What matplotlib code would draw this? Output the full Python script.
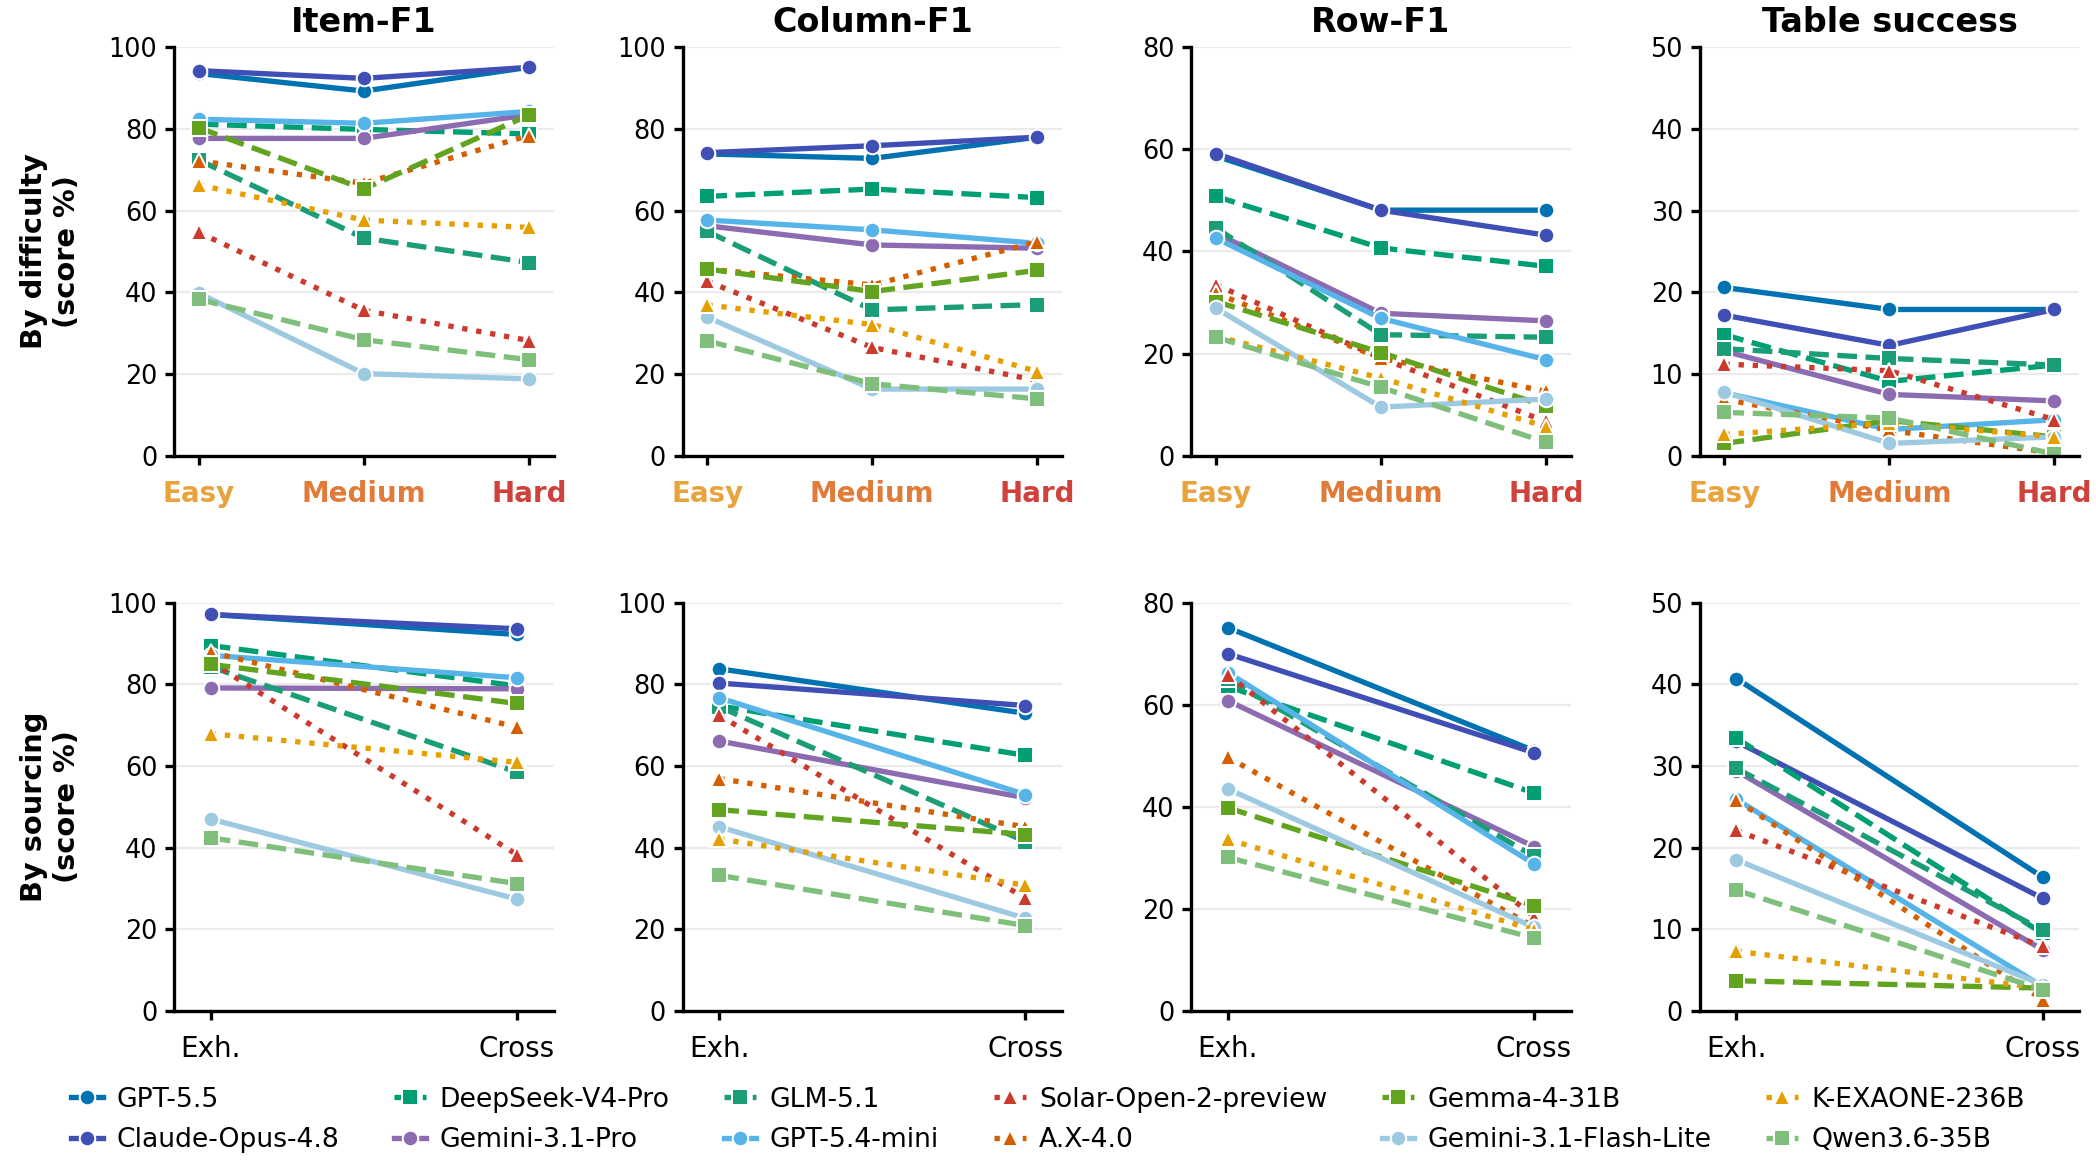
##############
#Dependencies
##############
import matplotlib
matplotlib.use("Agg")
import matplotlib.pyplot as plt

#################
#Data
#################
MODELS = ["GPT-5.5", "Claude-Opus-4.8", "DeepSeek-V4-Pro", "Gemini-3.1-Pro",
          "GLM-5.1", "GPT-5.4-mini", "Solar-Open-2-preview", "A.X-4.0",
          "Gemma-4-31B", "Gemini-3.1-Flash-Lite", "K-EXAONE-236B", "Qwen3.6-35B"]

DIFFICULTY = ["Easy", "Medium", "Hard"]
SOURCING = ["Exh.", "Cross"]
METRICS = ["Item-F1", "Column-F1", "Row-F1", "Table success"]

# rows follow MODELS, columns follow DIFFICULTY
item_diff = [[93.6, 89.3, 95.1], [94.3, 92.4, 95.1], [81.2, 79.9, 78.8], [77.7, 77.7, 83.5],
             [72.4, 53.3, 47.3], [82.4, 81.4, 84.3], [54.7, 35.6, 28.2], [72.2, 66.7, 78.4],
             [80.3, 65.3, 83.4], [39.8, 20.1, 18.8], [66.3, 57.7, 55.9], [38.3, 28.4, 23.5]]
col_diff = [[73.9, 72.8, 78.0], [74.2, 75.9, 78.0], [63.5, 65.3, 63.2], [56.3, 51.6, 50.8],
            [54.9, 35.7, 37.0], [57.7, 55.3, 52.0], [42.7, 26.5, 18.4], [45.7, 41.8, 52.4],
            [45.7, 40.2, 45.4], [33.9, 16.3, 16.3], [36.9, 32.1, 20.6], [28.1, 17.6, 13.9]]
row_diff = [[58.7, 48.1, 48.1], [59.2, 48.1, 43.2], [50.8, 40.7, 37.1], [43.6, 27.9, 26.4],
            [44.6, 23.7, 23.2], [42.6, 26.9, 18.8], [33.5, 19.1, 6.7], [31.8, 19.1, 12.6],
            [30.2, 20.2, 9.7], [28.9, 9.5, 11.1], [23.4, 15.2, 5.7], [23.2, 13.4, 2.6]]
table_diff = [[20.6, 17.9, 17.9], [17.2, 13.5, 17.9], [14.8, 9.1, 11.1], [12.8, 7.5, 6.7],
              [13.1, 11.9, 11.1], [7.7, 3.2, 4.4], [11.2, 10.4, 4.4], [6.9, 3.1, 0.3],
              [1.5, 4.3, 2.3], [7.8, 1.5, 2.3], [2.6, 4.0, 2.3], [5.3, 4.6, 0.2]]

# rows follow MODELS, columns follow SOURCING
item_src = [[97.1, 92.2], [97.1, 93.6], [89.5, 79.6], [79.1, 78.9], [84.3, 58.5], [87.1, 81.6],
            [85.5, 38.3], [87.9, 69.5], [84.9, 75.3], [47.0, 27.4], [67.9, 60.9], [42.4, 31.2]]
col_src = [[83.8, 72.9], [80.3, 74.8], [74.7, 62.6], [66.1, 52.2], [74.5, 41.5], [76.7, 53.0],
           [72.4, 27.6], [56.9, 45.1], [49.3, 43.2], [45.1, 22.7], [42.1, 30.8], [33.2, 20.9]]
row_src = [[75.1, 51.0], [70.0, 50.6], [63.6, 42.7], [60.8, 32.2], [65.0, 30.3], [66.3, 28.8],
           [65.9, 18.5], [49.7, 16.5], [39.8, 20.6], [43.5, 16.4], [33.6, 15.9], [30.1, 14.3]]
table_src = [[40.7, 16.4], [33.0, 13.8], [33.4, 9.5], [29.4, 7.5], [29.7, 9.9], [25.9, 3.0],
             [22.1, 7.9], [25.8, 1.4], [3.7, 2.8], [18.5, 3.2], [7.3, 2.8], [14.8, 2.6]]

#################
#Configurations
#################
COLORS = ["#0072B2", "#3F4FB5", "#009E73", "#8C6BB1", "#1B9E77", "#56B4E9",
          "#CC3A2E", "#D55E00", "#62A420", "#9ECAE1", "#E69F00", "#7FBF7B"]
STYLES = ["-", "-", "--", "-", "--", "-", ":", ":", "--", "-", ":", "--"]
MARKERS = ["o", "o", "s", "o", "s", "o", "^", "^", "s", "o", "^", "s"]
DIFF_COLORS = ["#E8A33C", "#E07B39", "#D0413B"]
YMAX = [100, 100, 80, 50]
YSTEP = [20, 20, 20, 10]


#################
#Methods
#################
def drawPanel(ax, data, cats, ymax, ystep):
    x = list(range(len(cats)))
    for i, name in enumerate(MODELS):
        ax.plot(x, data[i], linestyle=STYLES[i], marker=MARKERS[i], color=COLORS[i],
                linewidth=2.4, markersize=7, markeredgecolor="white",
                markeredgewidth=0.9, label=name)
    ax.set_ylim(0, ymax)
    ax.set_yticks(range(0, ymax + 1, ystep))
    ax.set_xticks(x)
    ax.set_xticklabels(cats)
    pad = 0.15 if len(cats) == 3 else 0.12
    ax.set_xlim(-pad, len(cats) - 1 + pad)
    ax.grid(axis="y", color="#EBEBEB", linewidth=1.0)
    ax.set_axisbelow(True)
    for side in ["top", "right"]:
        ax.spines[side].set_visible(False)
    for side in ["left", "bottom"]:
        ax.spines[side].set_linewidth(1.5)
    ax.tick_params(axis="both", labelsize=11.5, length=4, width=1.5)
    ax.tick_params(axis="x", pad=7)


#####################
#main function
#####################
def main():
    fig, axes = plt.subplots(2, 4, figsize=(13.1, 7.30625), dpi=160)
    fig.subplots_adjust(left=0.083, right=0.992, top=0.9595, bottom=0.1352,
                        wspace=0.34, hspace=0.36)

    top = [item_diff, col_diff, row_diff, table_diff]
    bottom = [item_src, col_src, row_src, table_src]
    for j in range(4):
        ax = axes[0, j]
        drawPanel(ax, top[j], DIFFICULTY, YMAX[j], YSTEP[j])
        ax.set_title(METRICS[j], fontsize=15, fontweight="bold", pad=7)
        for lab, c in zip(ax.get_xticklabels(), DIFF_COLORS):
            lab.set_color(c)
            lab.set_fontweight("bold")
            lab.set_fontsize(12.5)
        drawPanel(axes[1, j], bottom[j], SOURCING, YMAX[j], YSTEP[j])
        for lab in axes[1, j].get_xticklabels():
            lab.set_fontsize(12.5)

    fig.text(0.024, 0.785, "By difficulty\n(score %)", rotation=90, ha="center",
             va="center", fontsize=13, fontweight="bold")
    fig.text(0.024, 0.31, "By sourcing\n(score %)", rotation=90, ha="center",
             va="center", fontsize=13, fontweight="bold")

    handles, labels = axes[0, 0].get_legend_handles_labels()
    fig.legend(handles, labels, loc="lower center", bbox_to_anchor=(0.5, -0.007),
               ncol=6, frameon=False, fontsize=12, handlelength=1.2,
               columnspacing=2.05, handletextpad=0.5, labelspacing=0.55)

    fig.savefig("out.png", dpi=160)


#############
#Execute Script
##############
if __name__ == '__main__':
    main()
